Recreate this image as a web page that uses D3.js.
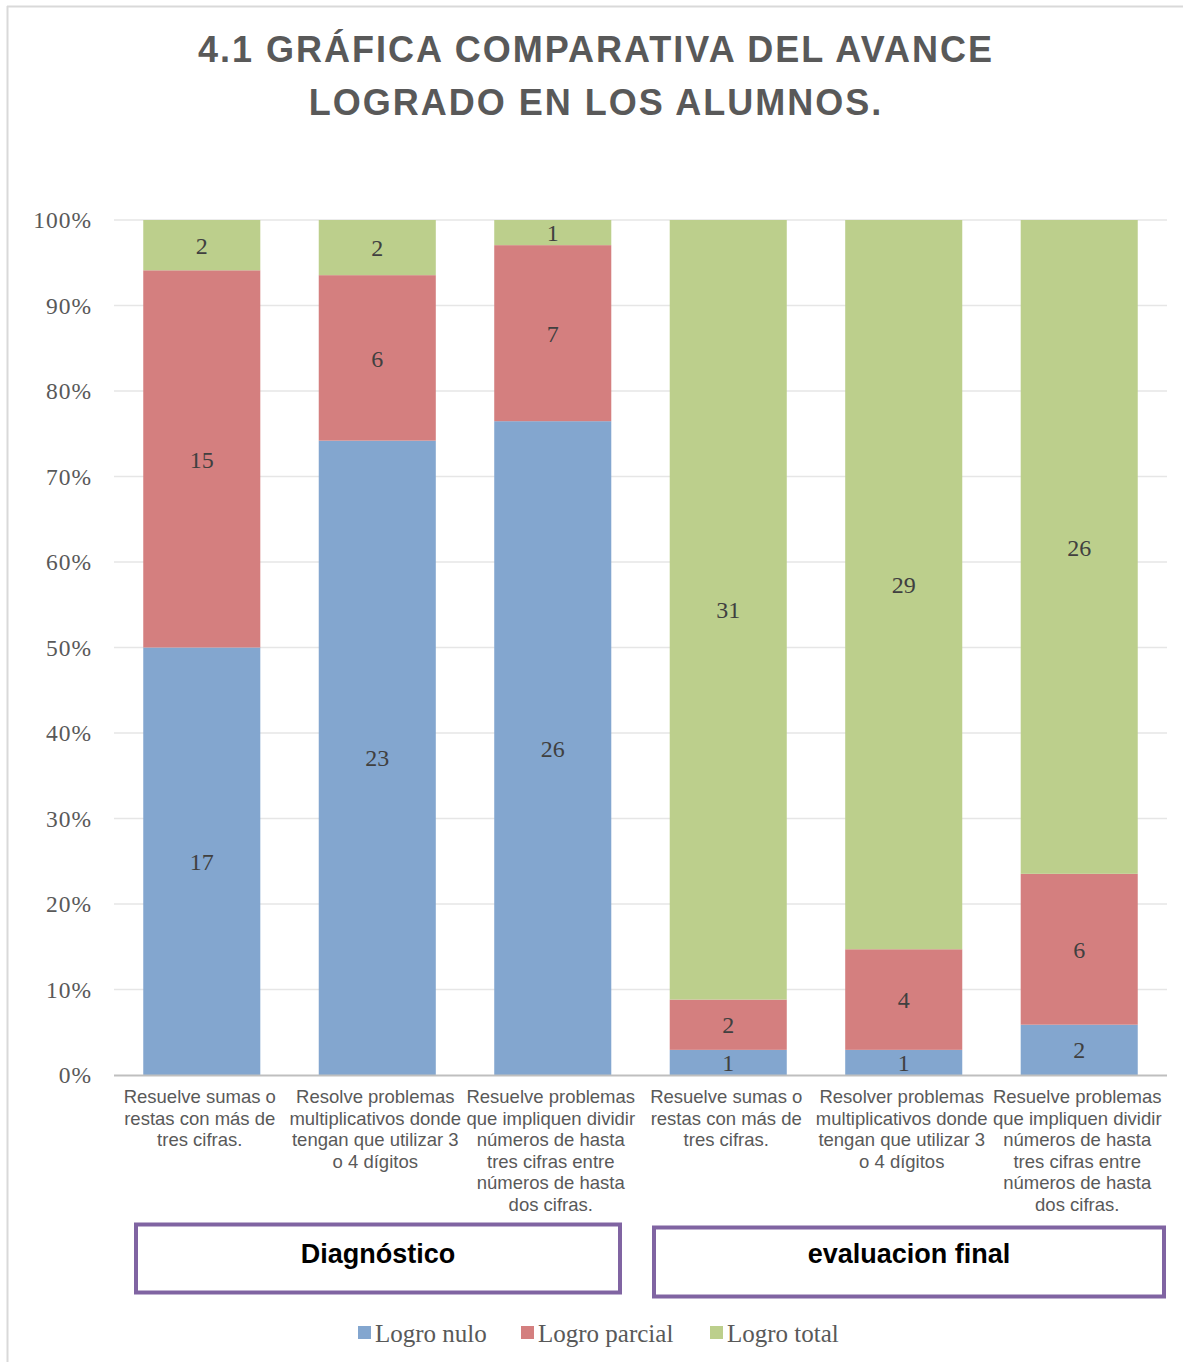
<!DOCTYPE html>
<html>
<head>
<meta charset="utf-8">
<script src="https://cdn.jsdelivr.net/npm/d3@7"></script>
<style>
  html, body { margin: 0; padding: 0; background: #ffffff; }
  svg { display: block; }
</style>
</head>
<body>
<svg id="chart" width="1183" height="1362"></svg>
<script>
// Category labels, already broken into lines as they are printed under each bar
const categories = [
  ["Resuelve sumas o", "restas con más de", "tres cifras."],
  ["Resolve problemas", "multiplicativos donde", "tengan que utilizar 3", "o 4 dígitos"],
  ["Resuelve problemas", "que impliquen dividir", "números de hasta", "tres cifras entre", "números de hasta", "dos cifras."],
  ["Resuelve sumas o", "restas con más de", "tres cifras."],
  ["Resolver problemas", "multiplicativos donde", "tengan que utilizar 3", "o 4 dígitos"],
  ["Resuelve problemas", "que impliquen dividir", "números de hasta", "tres cifras entre", "números de hasta", "dos cifras."]
];

// Number of students at each level of achievement
const logroNulo    = [17, 23, 26, 1, 1, 2];
const logroParcial = [15, 6, 7, 2, 4, 6];
const logroTotal   = [2, 2, 1, 31, 29, 26];

const seriesNames = ["Logro nulo", "Logro parcial", "Logro total"];
const seriesColors = ["#83a6cf", "#d47f7f", "#bccf8c"];

// Evaluation moments: first three bars, last three bars
const groups = ["Diagnóstico", "evaluacion final"];

const yTicks = [0, 0.1, 0.2, 0.3, 0.4, 0.5, 0.6, 0.7, 0.8, 0.9, 1];

const titleLines = ["4.1 GRÁFICA COMPARATIVA DEL AVANCE", "LOGRADO EN LOS ALUMNOS."];

// ---------------------------------------------------------------
const svg = d3.select("#chart");
const W = 1183, H = 1362;
const plot = { left: 114, right: 1167, top: 220, bottom: 1075 };

// Outer chart frame (only the top and left edges fall inside the page)
svg.append("line").attr("x1", 7).attr("x2", W).attr("y1", 6.5).attr("y2", 6.5)
  .attr("stroke", "#d9d9d9").attr("stroke-width", 2);
svg.append("line").attr("x1", 7.5).attr("x2", 7.5).attr("y1", 6).attr("y2", H)
  .attr("stroke", "#d9d9d9").attr("stroke-width", 2);

// Title
svg.append("g").selectAll("text").data(titleLines).join("text")
  .attr("x", 596).attr("y", (d, i) => 62 + i * 53)
  .attr("text-anchor", "middle")
  .attr("font-family", "Liberation Sans, Arial, sans-serif")
  .attr("font-weight", "bold")
  .attr("font-size", 36)
  .attr("letter-spacing", 2)
  .attr("fill", "#595959")
  .text(d => d);

// Scales
const idx = d3.range(categories.length);
const x = d3.scaleBand().domain(idx).range([plot.left, plot.right])
  .paddingInner(0.333).paddingOuter(0.1667);
const y = d3.scaleLinear().domain([0, 1]).range([plot.bottom, plot.top]);

// Gridlines
svg.append("g").selectAll("line").data(yTicks.filter(t => t > 0)).join("line")
  .attr("x1", plot.left).attr("x2", plot.right)
  .attr("y1", d => y(d)).attr("y2", d => y(d))
  .attr("stroke", "#e6e6e6").attr("stroke-width", 1.5);

// Y axis labels
const yAxis = d3.axisLeft(y).tickValues(yTicks).tickFormat(d3.format(".0%")).tickSize(0).tickPadding(22);
const yg = svg.append("g").attr("transform", `translate(${plot.left},0)`).call(yAxis);
yg.select(".domain").remove();
yg.selectAll("text")
  .attr("font-family", "Liberation Serif, Cambria, serif")
  .attr("font-size", 23.5)
  .attr("letter-spacing", 1)
  .attr("fill", "#595959");

// Stacked, normalised data
const rows = idx.map(i => ({
  i,
  "Logro nulo": logroNulo[i],
  "Logro parcial": logroParcial[i],
  "Logro total": logroTotal[i]
}));
const stack = d3.stack().keys(seriesNames).offset(d3.stackOffsetExpand);
const stacked = stack(rows);

const layers = svg.append("g").selectAll("g").data(stacked).join("g")
  .attr("fill", (d, k) => seriesColors[k]);

layers.selectAll("rect").data(d => d).join("rect")
  .attr("x", d => x(d.data.i))
  .attr("width", x.bandwidth())
  .attr("y", d => y(d[1]))
  .attr("height", d => y(d[0]) - y(d[1]));

// Value labels in the middle of each segment
stacked.forEach(layer => {
  svg.append("g").selectAll("text").data(layer).join("text")
    .attr("x", d => x(d.data.i) + x.bandwidth() / 2)
    .attr("y", d => (y(d[0]) + y(d[1])) / 2)
    .attr("dy", "0.36em")
    .attr("text-anchor", "middle")
    .attr("font-family", "Liberation Serif, Cambria, serif")
    .attr("font-size", 24)
    .attr("fill", "#404040")
    .text(d => d.data[layer.key]);
});

// Baseline
svg.append("line").attr("x1", plot.left).attr("x2", plot.right)
  .attr("y1", plot.bottom + 0.5).attr("y2", plot.bottom + 0.5)
  .attr("stroke", "#bfbfbf").attr("stroke-width", 2);

// Category labels
const catG = svg.append("g").selectAll("text").data(categories).join("text")
  .attr("text-anchor", "middle")
  .attr("font-family", "Liberation Sans, Arial, sans-serif")
  .attr("font-size", 18.5)
  .attr("fill", "#595959");
catG.each(function (lines, i) {
  d3.select(this).selectAll("tspan").data(lines).join("tspan")
    .attr("x", x(i) + x.bandwidth() / 2 - 2)
    .attr("y", (d, j) => 1103 + j * 21.5)
    .text(d => d);
});

// Group boxes under the categories
const boxes = [
  { x0: 136, x1: 620, y0: 1224.5, y1: 1292.5 },
  { x0: 654, x1: 1164, y0: 1227.5, y1: 1296.5 }
];
const boxG = svg.append("g").selectAll("g").data(groups).join("g");
boxG.append("rect")
  .attr("x", (d, i) => boxes[i].x0).attr("y", (d, i) => boxes[i].y0)
  .attr("width", (d, i) => boxes[i].x1 - boxes[i].x0)
  .attr("height", (d, i) => boxes[i].y1 - boxes[i].y0)
  .attr("fill", "#ffffff").attr("stroke", "#8064a2").attr("stroke-width", 4);
boxG.append("text")
  .attr("x", (d, i) => (boxes[i].x0 + boxes[i].x1) / 2)
  .attr("y", 1263)
  .attr("text-anchor", "middle")
  .attr("font-family", "Liberation Sans, Arial, sans-serif")
  .attr("font-weight", "bold")
  .attr("font-size", 27)
  .attr("fill", "#000000")
  .text(d => d);

// Legend
const legendX = [358, 521, 710];
const leg = svg.append("g").selectAll("g").data(seriesNames).join("g")
  .attr("transform", (d, i) => `translate(${legendX[i]},1333)`);
leg.append("rect").attr("x", 0).attr("y", -7).attr("width", 13).attr("height", 13)
  .attr("fill", (d, i) => seriesColors[i]);
leg.append("text").attr("x", 17).attr("y", 0).attr("dy", "0.35em")
  .attr("font-family", "Liberation Serif, Cambria, serif")
  .attr("font-size", 25)
  .attr("fill", "#595959")
  .text(d => d);
</script>
</body>
</html>
